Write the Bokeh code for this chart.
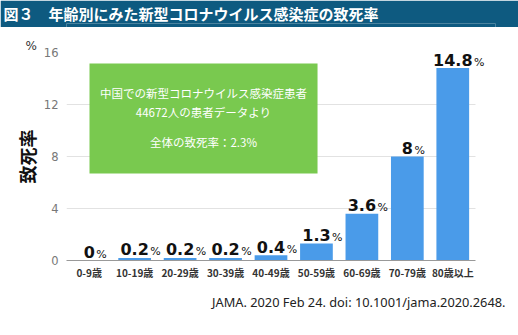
from bokeh.plotting import figure
from bokeh.models import (Range1d, LabelSet, Label, BoxAnnotation, FixedTicker,
                          ColumnDataSource, Title)
from bokeh.layouts import column
from bokeh.embed import file_html
from bokeh.resources import INLINE
from bokeh.core.properties import value

categories = ["0-9歳", "10-19歳", "20-29歳", "30-39歳", "40-49歳",
              "50-59歳", "60-69歳", "70-79歳", "80歳以上"]
rates = [0, 0.2, 0.2, 0.2, 0.4, 1.3, 3.6, 8, 14.8]
rate_labels = ["0", "0.2", "0.2", "0.2", "0.4", "1.3", "3.6", "8", "14.8"]
y_ticks = [0, 4, 8, 12, 16]
title_text = "図３　年齢別にみた新型コロナウイルス感染症の致死率"
note_lines = ["中国での新型コロナウイルス感染症患者", "44672人の患者データより", "全体の致死率：2.3%"]
source_text = "JAMA. 2020 Feb 24. doi: 10.1001/jama.2020.2648."
y_label = "致死率"
unit_label = "%"

JP = "Noto Sans CJK JP"
NUM = "DejaVu Sans"
BAR = "#4a9be9"
GREEN = "#79c94f"
NAVY = "#0e5a80"

# ---- title bar ----
t = figure(width=518, height=27, x_range=Range1d(0, 1), y_range=Range1d(0, 1),
           toolbar_location=None, output_backend="svg", x_axis_type=None,
           y_axis_type=None, min_border=0, title=title_text)
t.grid.visible = False
t.outline_line_color = None
t.background_fill_color = NAVY
t.border_fill_color = NAVY
t.title.text_color = "white"
t.title.text_font = JP
t.title.text_font_size = "15px"
t.title.text_font_style = "bold"
t.title.align = "left"
t.title.offset = -63
t.title.standoff = 0

# ---- main chart ----
n = len(categories)
xs = [i + 0.5 for i in range(n)]
p = figure(width=518, height=308, x_range=Range1d(0, n + 20 / 45.44),
           y_range=Range1d(0, max(y_ticks)),
           toolbar_location=None, output_backend="svg",
           min_border_left=66, min_border_right=23, min_border_top=25,
           min_border_bottom=75)
p.outline_line_color = None
p.xgrid.visible = False
p.ygrid.grid_line_color = "#e2e2e2"
p.ygrid.ticker = FixedTicker(ticks=y_ticks)
p.ygrid.cross_bounds = (0, n)

p.yaxis.ticker = FixedTicker(ticks=y_ticks)
p.yaxis.axis_line_color = None
p.yaxis.major_tick_line_color = None
p.yaxis.major_tick_out = 0
p.yaxis.major_tick_in = 0
p.yaxis.minor_tick_line_color = None
p.yaxis.major_label_standoff = 8
p.yaxis.major_label_text_font = NUM
p.yaxis.major_label_text_font_size = "11.5px"
p.yaxis.major_label_text_color = "#777777"

p.xaxis.ticker = FixedTicker(ticks=xs)
p.xaxis.major_label_overrides = {x: c for x, c in zip(xs, categories)}
p.xaxis.bounds = (0, n)
p.xaxis.axis_line_color = "#999999"
p.xaxis.major_tick_line_color = None
p.xaxis.major_tick_out = 0
p.xaxis.major_tick_in = 0
p.xaxis.minor_tick_line_color = None
p.xaxis.major_label_standoff = 4
p.xaxis.major_label_text_font = JP
p.xaxis.major_label_text_font_size = "10px"
p.xaxis.major_label_text_font_style = "bold"
p.xaxis.major_label_text_color = "#333333"

p.vbar(x=xs, top=rates, width=0.72, color=BAR, line_color=None)

# value labels: number centred on bar, small % after it
num_size = 16
pct_offsets = []
for s in rate_labels:
    w = sum(0.38 if ch == "." else 0.696 for ch in s) * num_size
    pct_offsets.append(w / 2 + 1.5)
lab_src = ColumnDataSource(dict(x=xs, y=rates, num=rate_labels,
                                pct=[unit_label] * n, off=pct_offsets))
p.add_layout(LabelSet(x="x", y="y", text="num", source=lab_src, text_align="center",
                      text_baseline="alphabetic", y_offset=2.5, text_font=value(NUM),
                      text_font_size=value(f"{num_size}px"),
                      text_font_style="bold", text_color="#111111"))
p.add_layout(LabelSet(x="x", y="y", text="pct", source=lab_src, x_offset="off",
                      text_align="left", text_baseline="alphabetic", y_offset=2.5,
                      text_font=value(NUM), text_font_size=value("11px"),
                      text_color="#111111"))

# green note box
box = BoxAnnotation(left=0.506, right=5.524, bottom=6.69, top=15.15,
                    fill_color=GREEN, fill_alpha=1.0, line_color=None)
p.add_layout(box)
for txt, yy in zip(note_lines, [12.85, 11.46, 9.08]):
    p.add_layout(Label(x=3.015, y=yy, text=txt, text_color="white", text_font=JP,
                       text_font_size="11.5px", text_align="center",
                       text_baseline="middle"))

# unit (above), y label (left title) and source (below title)
p.add_layout(Title(text=unit_label, align="left", offset=-41, standoff=0,
                   text_font=NUM, text_font_size="12px", text_font_style="normal",
                   text_color="#333333"), "above")
p.add_layout(Title(text=y_label, align="center", offset=-14.5, standoff=2,
                   text_font=JP, text_font_size="18px", text_font_style="bold",
                   text_color="#111111"), "left")
p.add_layout(Title(text=source_text, align="right", offset=-10, standoff=16,
                   text_font="Noto Sans", text_font_size="12.8px",
                   text_font_style="normal", text_color="#222222"), "below")

layout = column(t, p, spacing=0)
open("out.html", "w").write(file_html(layout, INLINE))
